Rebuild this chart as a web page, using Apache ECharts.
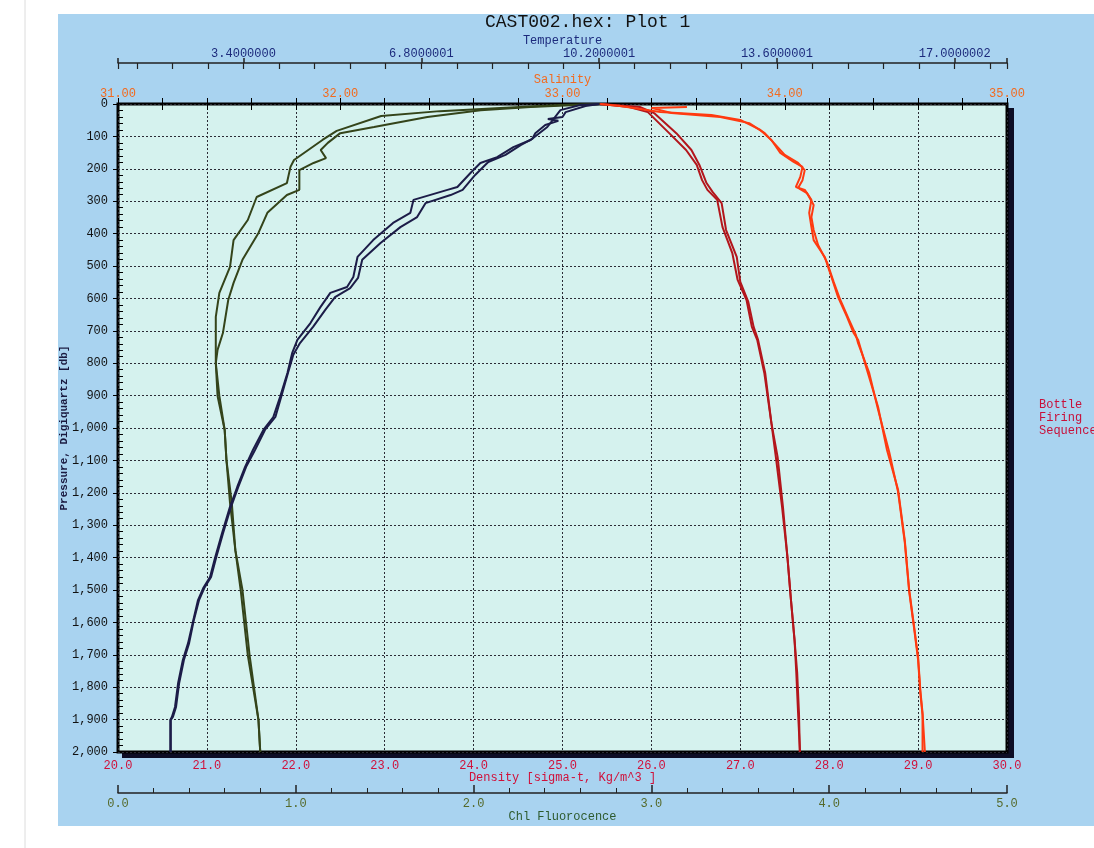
<!DOCTYPE html>
<html>
<head>
<meta charset="utf-8">
<title>CAST002.hex: Plot 1</title>
<script src="https://cdn.jsdelivr.net/npm/echarts@6/dist/echarts.min.js"></script>
<style>
  html, body { margin: 0; padding: 0; background: #fff; }
  #plot { width: 1094px; height: 848px; }
</style>
</head>
<body>
<div id="plot"></div>
<script>
  // casts: [value, pressure db]
  var chlDown = [[2.71,0],[2.49,3],[2.15,12],[1.81,22],[1.48,37],[1.23,83],[1.15,111],[0.99,173],[0.97,194],[0.95,244],[0.78,287],[0.73,358],[0.65,420],[0.63,503],[0.57,583],[0.55,657],[0.55,759],[0.55,800],[0.56,901],[0.60,1006],[0.61,1099],[0.63,1231],[0.66,1377],[0.69,1500],[0.73,1701],[0.79,1901],[0.80,2000]];
  var chlUp = [[2.71,0],[2.32,9],[2.04,19],[1.74,40],[1.44,71],[1.25,90],[1.18,120],[1.14,142],[1.17,167],[1.10,182],[1.02,204],[1.02,265],[0.95,281],[0.84,336],[0.79,398],[0.70,481],[0.65,552],[0.62,605],[0.59,707],[0.56,759],[0.55,800],[0.57,901],[0.60,1006],[0.61,1099],[0.64,1231],[0.66,1377],[0.70,1500],[0.74,1701],[0.79,1901],[0.80,2000]];

  var tempDown = [[10.2,0],[9.84,3],[9.46,19],[9.21,71],[8.89,111],[8.56,133],[8.25,164],[7.93,182],[7.74,213],[7.49,256],[7.30,265],[6.65,296],[6.59,336],[6.26,367],[5.88,420],[5.58,472],[5.50,534],[5.38,565],[5.06,583],[4.87,627],[4.68,676],[4.43,728],[4.33,769],[4.24,830],[4.10,904],[3.97,966],[3.78,1006],[3.58,1068],[3.43,1120],[3.28,1182],[3.14,1244],[2.99,1324],[2.86,1398],[2.76,1460],[2.63,1494],[2.53,1531],[2.44,1593],[2.34,1664],[2.24,1716],[2.15,1787],[2.09,1861],[2.03,1892],[2.00,1901],[2.00,2000]];
  var tempUp = [[10.2,0],[9.94,6],[9.56,25],[9.50,40],[9.22,46],[9.42,52],[9.17,65],[8.98,90],[8.92,108],[8.70,127],[8.41,157],[8.08,179],[7.83,219],[7.59,265],[7.36,281],[6.88,306],[6.72,349],[6.40,380],[6.02,429],[5.67,481],[5.59,537],[5.44,568],[5.15,596],[4.96,636],[4.73,688],[4.48,738],[4.35,775],[4.25,830],[4.12,904],[4.01,966],[3.81,1006],[3.62,1068],[3.45,1120],[3.30,1182],[3.16,1244],[3.01,1324],[2.88,1398],[2.78,1460],[2.65,1494],[2.55,1531],[2.45,1593],[2.36,1664],[2.26,1716],[2.17,1787],[2.11,1861],[2.05,1892],[2.01,1901],[2.01,2000]];

  var densDown = [[25.42,0],[25.75,9],[25.96,25],[25.98,28],[26.20,90],[26.39,142],[26.51,188],[26.57,235],[26.63,265],[26.74,296],[26.80,380],[26.91,460],[26.97,543],[27.07,605],[27.13,688],[27.19,728],[27.27,830],[27.35,985],[27.40,1090],[27.47,1244],[27.53,1398],[27.57,1531],[27.61,1654],[27.63,1756],[27.65,1880],[27.67,1994],[27.67,2000]];
  var densUp = [[25.42,0],[25.87,9],[26.03,28],[26.28,90],[26.45,142],[26.54,188],[26.62,244],[26.69,272],[26.79,306],[26.84,389],[26.96,472],[27.00,549],[27.09,611],[27.15,688],[27.20,728],[27.28,830],[27.35,985],[27.42,1090],[27.48,1244],[27.53,1398],[27.57,1531],[27.61,1654],[27.64,1756],[27.66,1880],[27.67,2000]];

  var salDown = [[33.17,0],[33.26,6],[33.44,25],[33.67,34],[33.80,49],[33.89,80],[33.94,111],[33.98,151],[34.04,179],[34.08,194],[34.07,225],[34.05,256],[34.09,265],[34.12,296],[34.11,336],[34.12,380],[34.13,420],[34.18,472],[34.21,534],[34.24,596],[34.28,657],[34.31,707],[34.33,728],[34.37,821],[34.42,935],[34.46,1068],[34.51,1191],[34.54,1346],[34.56,1500],[34.58,1602],[34.60,1707],[34.61,1809],[34.62,1880],[34.63,1994],[34.63,2000]];
  var salUp = [[33.56,9],[33.40,12],[33.49,28],[33.71,40],[33.84,59],[33.91,90],[33.96,127],[34.00,157],[34.06,182],[34.09,204],[34.08,235],[34.06,259],[34.10,275],[34.13,312],[34.12,349],[34.13,389],[34.15,435],[34.19,488],[34.22,549],[34.25,605],[34.29,667],[34.32,713],[34.33,738],[34.38,830],[34.42,944],[34.47,1074],[34.51,1198],[34.54,1352],[34.56,1506],[34.58,1608],[34.60,1716],[34.61,1818],[34.62,1886],[34.62,2000]];

  var tempTicks = [3.4, 6.8, 10.2, 13.6, 17.0];
  var tempTickLabels = ['3.4000000', '6.8000001', '10.2000001', '13.6000001', '17.0000002'];
  var tempMajorTicks = [1, 3.4, 6.8, 10.2, 13.6, 17.0, 18];
  var tempMinorTicks = [1, 1.36, 2.04, 2.72, 3.4, 4.08, 4.76, 5.44, 6.12, 6.8, 7.48, 8.16, 8.84, 9.52, 10.2, 10.88, 11.56, 12.24, 12.92, 13.6, 14.28, 14.96, 15.64, 16.32, 17.0, 17.68, 18];
  var salMajorTicks = [31, 32, 33, 34, 35];

  var MONO = '"Liberation Mono", "DejaVu Sans Mono", monospace';
  var chart = echarts.init(document.getElementById('plot'));

  var dotted = { show: true, lineStyle: { color: '#2b2b35', width: 1, type: [2, 2] } };
  var black = { color: '#000', width: 1 };

  function cast(data, xi, color) {
    return {
      type: 'line', xAxisIndex: xi, yAxisIndex: 0, data: data,
      showSymbol: false, symbol: 'none', silent: true,
      lineStyle: { color: color, width: 2 }, itemStyle: { color: color }
    };
  }

  var option = {
    animation: false,
    textStyle: { fontFamily: MONO },
    graphic: [
      { type: 'rect', z: -10, shape: { x: 58, y: 14, width: 1036, height: 812 }, style: { fill: '#a9d3f0' } },
      { type: 'line', z: -10, shape: { x1: 25, y1: 0, x2: 25, y2: 848 }, style: { stroke: '#dcdcdc', lineWidth: 1 } },
      // plot frame drop shadow
      { type: 'rect', z: -9, shape: { x: 1007, y: 108, width: 7, height: 650 }, style: { fill: '#0d0d25' } },
      { type: 'rect', z: -9, shape: { x: 122, y: 752, width: 892, height: 6 }, style: { fill: '#0d0d25' } },
      { type: 'text', x: 1039, y: 398, style: { text: 'Bottle\nFiring\nSequence', font: '12px ' + MONO, fill: '#c8103a', lineHeight: 13 } }
    ],
    title: {
      text: 'CAST002.hex: Plot 1', left: 480, top: 8,
      textStyle: { fontFamily: MONO, fontSize: 18, fontWeight: 'normal', color: '#111' }
    },
    grid: {
      left: 118, top: 104, width: 889, height: 648, show: true,
      backgroundColor: '#d5f2ee', borderColor: '#000', borderWidth: 3
    },
    xAxis: [
      { // density
        type: 'value', position: 'bottom', min: 20, max: 30, interval: 1,
        name: 'Density [sigma-t, Kg/m^3 ]', nameLocation: 'middle', nameGap: 20, nameMoveOverlap: false,
        nameTextStyle: { color: '#d0103a', fontFamily: MONO, fontSize: 12 },
        axisLine: { show: false },
        axisTick: { show: true, inside: true, length: 6, lineStyle: black },
        minorTick: { show: true, splitNumber: 2, length: 6, lineStyle: black },
        axisLabel: { color: '#d0103a', fontFamily: MONO, fontSize: 12, margin: 8, formatter: function (v) { return v.toFixed(1); } },
        splitLine: dotted
      },
      { // chl
        type: 'value', position: 'bottom', offset: 41, min: 0, max: 5, interval: 1,
        name: 'Chl Fluorocence', nameLocation: 'middle', nameGap: 18, nameMoveOverlap: false,
        nameTextStyle: { color: '#2d5a2d', fontFamily: MONO, fontSize: 12 },
        axisLine: { show: true, onZero: false, lineStyle: { color: '#222', width: 1.5 } },
        axisTick: { show: true, inside: true, length: 8, lineStyle: { color: '#222', width: 1.5 } },
        minorTick: { show: true, splitNumber: 5, length: 5, lineStyle: { color: '#222' } },
        axisLabel: { color: '#55692a', fontFamily: MONO, fontSize: 12, margin: 5, formatter: function (v) { return v.toFixed(1); } },
        splitLine: { show: false }
      },
      { // salinity
        type: 'value', position: 'top', min: 31, max: 35, interval: 1,
        name: 'Salinity', nameLocation: 'middle', nameGap: 18, nameMoveOverlap: false,
        nameTextStyle: { color: '#f36a1e', fontFamily: MONO, fontSize: 12 },
        axisLine: { show: false },
        axisTick: { show: true, inside: true, length: 6, lineStyle: black },
        minorTick: { show: true, splitNumber: 5, length: 6, lineStyle: black },
        axisLabel: { color: '#f36a1e', fontFamily: MONO, fontSize: 12, margin: 4, formatter: function (v) { return v.toFixed(2); } },
        splitLine: { show: false }
      },
      { // temperature
        type: 'value', position: 'top', offset: 41, min: 1, max: 18,
        name: 'Temperature', nameLocation: 'middle', nameGap: 16, nameMoveOverlap: false,
        nameTextStyle: { color: '#1c2a7c', fontFamily: MONO, fontSize: 12 },
        axisLine: { show: true, onZero: false, lineStyle: { color: '#222', width: 1.5 } },
        axisTick: { show: true, length: 5, customValues: tempMajorTicks, lineStyle: { color: '#222', width: 1.5 } },
        axisLabel: {
          color: '#1c2a7c', fontFamily: MONO, fontSize: 12, margin: 3, customValues: tempTicks,
          formatter: function (v) {
            var i = tempTicks.findIndex(function (t) { return Math.abs(t - v) < 1e-6; });
            return i < 0 ? '' : tempTickLabels[i];
          }
        },
        splitLine: { show: false }
      },
      { // temperature minor ticks
        type: 'value', position: 'top', offset: 41, min: 1, max: 18,
        axisLine: { show: false },
        axisTick: { show: true, inside: true, length: 6, customValues: tempMinorTicks, lineStyle: { color: '#222', width: 1.2 } },
        axisLabel: { show: false },
        splitLine: { show: false }
      },
      { // salinity major stubs above the frame
        type: 'value', position: 'top', min: 31, max: 35,
        axisLine: { show: false },
        axisTick: { show: true, length: 4, customValues: salMajorTicks, lineStyle: black },
        axisLabel: { show: false },
        splitLine: { show: false }
      }
    ],
    yAxis: [
      {
        type: 'value', position: 'left', inverse: true, min: 0, max: 2000, interval: 100,
        name: 'Pressure, Digiquartz [db]', nameLocation: 'middle', nameGap: 48, nameMoveOverlap: false,
        nameTextStyle: { color: '#1a1a40', fontFamily: MONO, fontSize: 11, fontWeight: 'bold' },
        axisLine: { show: false },
        axisTick: { show: true, length: 5, lineStyle: black },
        axisLabel: { color: '#111', fontFamily: MONO, fontSize: 12, margin: 10, formatter: function (v) { return v.toLocaleString('en-US'); } },
        splitLine: dotted
      },
      {
        type: 'value', position: 'left', inverse: true, min: 0, max: 2000, interval: 100,
        axisLine: { show: false },
        axisTick: { show: false, inside: true },
        minorTick: { show: true, splitNumber: 5, length: 5, lineStyle: black },
        axisLabel: { show: false },
        splitLine: { show: false }
      }
    ],
    series: [
      cast(chlDown, 1, '#34441a'),
      cast(chlUp, 1, '#34441a'),
      cast(tempDown, 3, '#1c1c48'),
      cast(tempUp, 3, '#1c1c48'),
      cast(densDown, 0, '#b3161c'),
      cast(densUp, 0, '#b3161c'),
      cast(salDown, 2, '#ff3a10'),
      cast(salUp, 2, '#ff3a10')
    ]
  };

  chart.setOption(option);
  window.onresize = function () { chart.resize(); };
</script>
</body>
</html>
